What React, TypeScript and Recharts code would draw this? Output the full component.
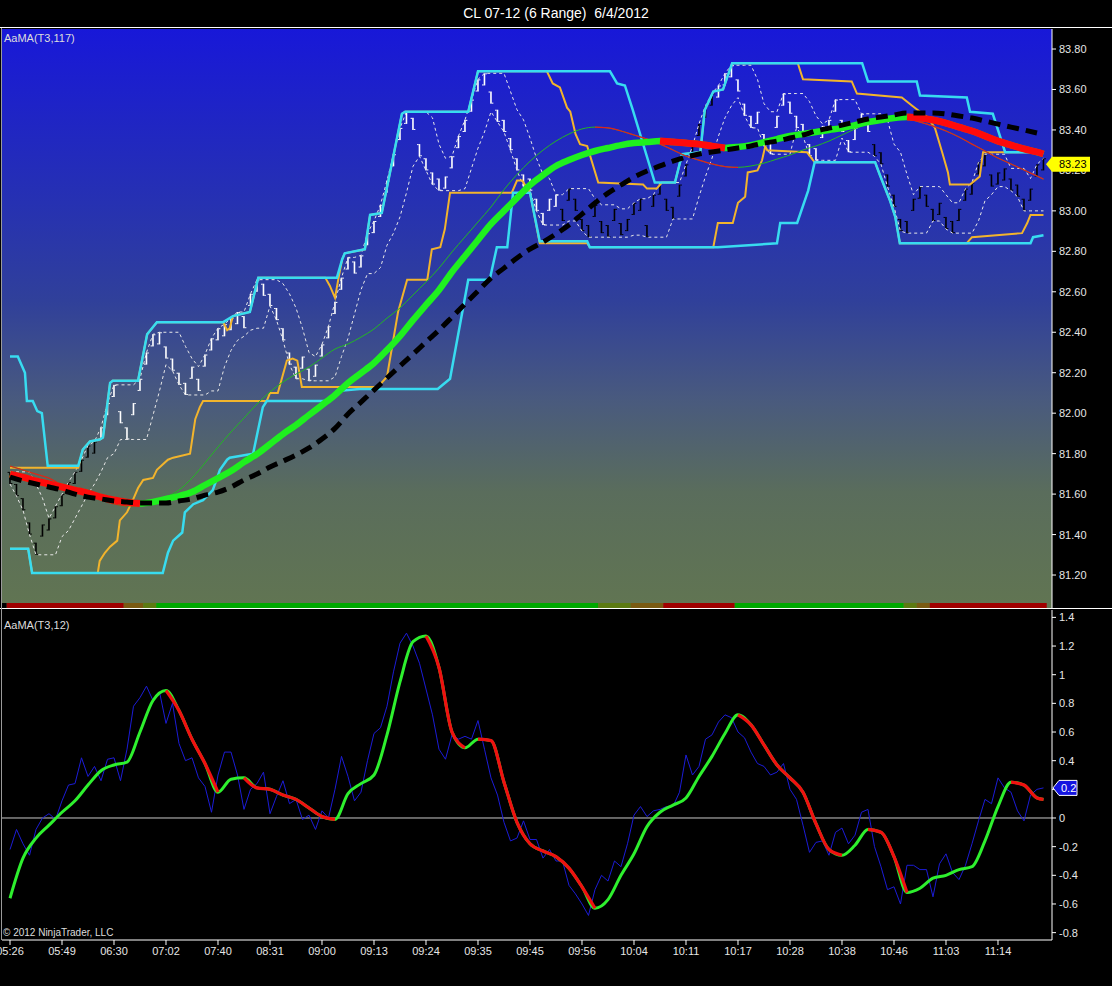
import React from "react";
import { ComposedChart, Line, Bar, XAxis, YAxis, ReferenceArea, ReferenceLine } from "recharts";

const chartTitle = "CL 07-12 (6 Range)  6/4/2012";

// x axis: one slot per sampled range bar
const timeTicks = [1, 9, 17, 25, 33, 41, 49, 57, 65, 73, 81, 89, 97, 105, 113, 121, 129, 137, 145, 153];
const timeLabels = ["05:26", "05:49", "06:30", "07:02", "07:40", "08:31", "09:00", "09:13", "09:24", "09:35",
  "09:45", "09:56", "10:04", "10:11", "10:17", "10:28", "10:38", "10:46", "11:03", "11:14"];

const priceTicks = [81.2, 81.4, 81.6, 81.8, 82.0, 82.2, 82.4, 82.6, 82.8, 83.0, 83.2, 83.4, 83.6, 83.8];
const oscTicks = [-0.8, -0.6, -0.4, -0.2, 0, 0.2, 0.4, 0.6, 0.8, 1, 1.2, 1.4];

// mid price of each range bar (6 ticks tall)
const barMid = [null,
  81.68, 81.62, 81.55, 81.43, 81.33, 81.42, 81.45, 81.51, 81.57, 81.63,
  81.68, 81.74, 81.81, 81.83, 81.90, 82.02, 82.11, 81.98, 81.90, 82.02,
  82.14, 82.27, 82.36, 82.37, 82.30, 82.24, 82.17, 82.12, 82.20, 82.14,
  82.26, 82.34, 82.39, 82.41, 82.44, 82.47, 82.45, 82.56, 82.63, 82.61,
  82.56, 82.49, 82.39, 82.27, 82.20, 82.25, 82.19, 82.21, 82.31, 82.40,
  82.52, 82.64, 82.74, 82.72, 82.75, 82.86, 82.92, 83.00, 83.12, 83.25,
  83.38, 83.46, 83.43, 83.30, 83.23, 83.16, 83.13, 83.14, 83.24, 83.34,
  83.42, 83.52, 83.62, 83.65, 83.56, 83.47, 83.42, 83.33, 83.23, 83.15,
  83.13, 83.03, 82.96, 83.03, 83.05, 82.98, 83.08, 83.03, 82.93, 82.90,
  83.00, 82.92, 82.90, 82.98, 82.91, 82.93, 83.01, 83.03, 82.90, 83.05,
  83.11, 83.03, 82.99, 83.10, 83.20, 83.29, 83.40, 83.49, 83.55, 83.59,
  83.65, 83.69, 83.62, 83.50, 83.44, 83.46, 83.35, 83.31, 83.44, 83.55,
  83.51, 83.44, 83.40, 83.30, 83.28, 83.39, 83.42, 83.52, 83.42, 83.32,
  83.38, 83.45, 83.42, 83.30, 83.26, 83.15, 83.05, 82.93, 82.92, 83.03,
  83.09, 83.05, 82.98, 83.01, 82.94, 82.92, 82.98, 83.08, 83.11, 83.21,
  83.25, 83.15, 83.16, 83.18, 83.13, 83.10, 83.03, 83.08, 83.20, 83.23,
];

// bar colouring runs [from, to, tone]
const barTone = [[1, 14, "dn"], [15, 85, "up"], [86, 109, "dn"], [110, 133, "up"], [134, 160, "dn"]];

// trend strip along the bottom of the price panel
const trendStrip = [[0, 0, "none"], [1, 18, "dn"], [19, 21, "dnFlat"], [22, 23, "upFlat"], [24, 91, "up"],
  [92, 96, "upFlat"], [97, 101, "dnFlat"], [102, 112, "dn"], [113, 138, "up"], [139, 140, "upFlat"],
  [141, 142, "dnFlat"], [143, 160, "dn"]];

// smooth averages, one value every other bar
const sampleIdx = Array.from({ length: 80 }, (_, k) => 1 + 2 * k).concat(160);

const aama117 = [
  81.699, 81.684, 81.665, 81.650, 81.635, 81.620, 81.605, 81.585, 81.571, 81.560,
  81.553, 81.561, 81.576, 81.590, 81.610, 81.645, 81.679, 81.714, 81.758, 81.798,
  81.847, 81.897, 81.941, 81.991, 82.040, 82.090, 82.149, 82.198, 82.248, 82.312,
  82.381, 82.460, 82.535, 82.609, 82.698, 82.777, 82.856, 82.935, 83.000, 83.064,
  83.128, 83.177, 83.222, 83.251, 83.276, 83.296, 83.311, 83.325, 83.335, 83.340,
  83.345, 83.340, 83.335, 83.330, 83.320, 83.311, 83.316, 83.325, 83.340, 83.355,
  83.370, 83.380, 83.390, 83.400, 83.409, 83.424, 83.439, 83.449, 83.459, 83.464,
  83.459, 83.449, 83.434, 83.414, 83.395, 83.370, 83.345, 83.325, 83.306, 83.291,
  83.281,
];

const slowMa = [
  81.684, 81.665, 81.650, 81.635, 81.620, 81.600, 81.585, 81.576, 81.566, 81.561,
  81.556, 81.556, 81.556, 81.566, 81.576, 81.595, 81.610, 81.635, 81.670, 81.699,
  81.734, 81.763, 81.793, 81.828, 81.872, 81.925, 81.996, 82.055, 82.114, 82.174,
  82.233, 82.292, 82.352, 82.411, 82.475, 82.540, 82.604, 82.668, 82.717, 82.767,
  82.811, 82.846, 82.886, 82.930, 82.984, 83.039, 83.088, 83.128, 83.167, 83.197,
  83.222, 83.246, 83.266, 83.281, 83.291, 83.301, 83.311, 83.321, 83.335, 83.345,
  83.360, 83.375, 83.395, 83.409, 83.424, 83.439, 83.454, 83.464, 83.474, 83.484,
  83.484, 83.484, 83.479, 83.469, 83.459, 83.444, 83.429, 83.414, 83.400, 83.385,
  null,
];

const fastMa = [
  81.739, 81.719, 81.699, 81.679, 81.645, 81.620, 81.600, 81.571, 81.551, 81.541,
  81.551, 81.566, 81.586, 81.620, 81.679, 81.754, 81.833, 81.907, 81.976, 82.045,
  82.105, 82.154, 82.193, 82.228, 82.273, 82.317, 82.342, 82.376, 82.416, 82.470,
  82.520, 82.584, 82.648, 82.717, 82.797, 82.871, 82.945, 83.019, 83.105, 83.180,
  83.245, 83.300, 83.345, 83.380, 83.405, 83.414, 83.410, 83.395, 83.375, 83.355,
  83.330, 83.301, 83.271, 83.251, 83.232, 83.219, 83.215, 83.222, 83.236, 83.256,
  83.276, 83.301, 83.321, 83.345, 83.375, 83.405, 83.434, 83.454, 83.459, 83.454,
  83.439, 83.419, 83.395, 83.365, 83.330, 83.296, 83.261, 83.232, 83.202, 83.172,
  83.157,
];

// channel vertices [bar index, price]
const cyanHi = [[1.0, 82.28], [2.2, 82.28], [3.3, 82.20], [3.6, 82.06], [4.5, 82.06], [5.2, 82.01], [5.9, 82.00],
  [6.8, 81.74], [11.5, 81.74], [12.2, 81.82], [13.3, 81.86], [14.8, 81.87], [15.3, 81.88], [16.4, 82.15],
  [16.8, 82.16], [20.7, 82.16], [22.1, 82.39], [23.6, 82.45], [33.8, 82.45], [35.3, 82.48], [37.9, 82.50],
  [39.2, 82.67], [51.3, 82.67], [52.1, 82.76], [52.5, 82.79], [55.6, 82.81], [56.4, 82.98], [58.2, 82.99],
  [61.3, 83.48], [61.8, 83.49], [71.5, 83.49], [73.0, 83.69], [93.3, 83.69], [94.4, 83.63], [95.6, 83.62],
  [96.8, 83.50], [100.2, 83.14], [103.3, 83.14], [104.4, 83.28], [107.2, 83.29], [107.9, 83.50],
  [109.2, 83.59], [110.7, 83.60], [112.1, 83.73], [132.1, 83.73], [133.0, 83.64], [140.5, 83.64],
  [141.0, 83.57], [148.2, 83.56], [148.7, 83.49], [152.2, 83.48], [154.1, 83.29], [160.0, 83.29]];

const cyanLo = [[1.0, 81.33], [3.8, 81.33], [4.4, 81.21], [24.5, 81.21], [25.3, 81.31], [26.1, 81.37],
  [27.5, 81.41], [27.9, 81.51], [29.2, 81.55], [30.7, 81.57], [32.2, 81.62], [33.3, 81.72], [34.4, 81.77],
  [34.8, 81.78], [38.4, 81.80], [39.9, 82.03], [40.5, 82.06], [50.2, 82.06], [51.3, 82.11], [54.8, 82.12],
  [66.8, 82.12], [68.7, 82.17], [71.5, 82.66], [74.8, 82.66], [75.9, 82.82], [77.5, 82.82], [78.4, 83.09],
  [81.0, 83.09], [82.5, 82.85], [89.8, 82.85], [90.2, 82.82], [109.9, 82.82], [119.0, 82.84],
  [119.5, 82.94], [122.1, 82.94], [123.8, 83.10], [124.8, 83.24], [134.1, 83.24], [134.8, 83.18],
  [136.4, 83.05], [137.2, 82.97], [137.9, 82.84], [158.0, 82.84], [158.4, 82.87], [160.0, 82.88]];

const amberHi = [[1.0, 81.73], [11.5, 81.73], [12.2, 81.82], [13.3, 81.86], [14.8, 81.87], [15.3, 81.88],
  [16.4, 82.15], [16.8, 82.16], [20.7, 82.16], [22.1, 82.39], [23.6, 82.45], [33.8, 82.45], [34.4, 82.41],
  [34.8, 82.42], [35.3, 82.48], [37.9, 82.50], [39.2, 82.67], [49.5, 82.67], [50.2, 82.63], [51.0, 82.57],
  [51.5, 82.66], [52.1, 82.76], [52.5, 82.79], [55.6, 82.81], [56.4, 82.98], [58.2, 82.99], [61.3, 83.48],
  [61.8, 83.49], [71.5, 83.49], [73.0, 83.69], [83.6, 83.69], [84.5, 83.63], [85.6, 83.61], [86.7, 83.51],
  [87.2, 83.49], [88.0, 83.38], [88.7, 83.33], [89.8, 83.32], [91.5, 83.14], [98.4, 83.13], [99.0, 83.11],
  [100.5, 83.11], [101.3, 83.14], [103.3, 83.14], [104.4, 83.28], [107.2, 83.29], [107.9, 83.50],
  [109.2, 83.59], [110.7, 83.60], [112.1, 83.73], [122.2, 83.73], [123.0, 83.65], [130.5, 83.64],
  [131.3, 83.58], [138.2, 83.56], [139.8, 83.52], [142.2, 83.46], [143.3, 83.41], [144.5, 83.28],
  [145.3, 83.19], [145.6, 83.13], [148.7, 83.13], [150.2, 83.17], [150.7, 83.29], [160.0, 83.29]];

const amberLo = [[1.0, 81.33], [3.8, 81.33], [4.4, 81.21], [14.5, 81.21], [14.8, 81.27], [15.6, 81.31],
  [16.4, 81.34], [17.5, 81.37], [17.9, 81.47], [19.0, 81.51], [19.9, 81.57], [20.7, 81.63], [21.5, 81.67],
  [23.0, 81.68], [23.6, 81.72], [25.3, 81.77], [26.1, 81.78], [28.7, 81.80], [29.5, 81.97], [30.2, 82.03],
  [30.7, 82.06], [40.5, 82.06], [41.0, 82.10], [42.2, 82.10], [43.6, 82.26], [44.5, 82.27], [45.2, 82.26],
  [45.9, 82.13], [57.6, 82.13], [59.0, 82.18], [60.7, 82.50], [62.1, 82.66], [65.2, 82.66], [65.9, 82.81],
  [67.2, 82.82], [67.9, 82.91], [68.7, 83.09], [78.2, 83.09], [79.0, 83.15], [79.8, 83.15], [81.0, 83.09],
  [82.5, 82.84], [89.8, 82.84], [90.2, 82.82], [109.2, 82.82], [109.9, 82.94], [112.2, 82.94],
  [113.0, 83.04], [114.1, 83.07], [114.5, 83.19], [116.0, 83.20], [116.7, 83.25], [117.2, 83.32],
  [117.5, 83.30], [123.6, 83.29], [124.8, 83.24], [134.1, 83.24], [134.8, 83.18], [136.4, 83.05],
  [137.2, 82.97], [137.9, 82.84], [148.2, 82.84], [149.0, 82.87], [156.7, 82.89], [157.5, 82.94],
  [158.0, 82.98], [160.0, 82.98]];

// lower panel: AaMA(T3,12)
const oscRaw = [null,
  -0.22, -0.08, -0.18, -0.26, -0.08, 0.00, 0.03, -0.01, 0.12, 0.23,
  0.24, 0.42, 0.29, 0.36, 0.26, 0.41, 0.42, 0.26, 0.48, 0.78,
  0.84, 0.92, 0.82, 0.88, 0.66, 0.80, 0.52, 0.40, 0.42, 0.28,
  0.22, 0.04, 0.30, 0.46, 0.46, 0.30, 0.06, 0.20, 0.24, 0.32,
  0.03, 0.15, 0.26, 0.10, 0.13, -0.01, 0.02, -0.08, 0.05, 0.00,
  0.20, 0.43, 0.29, 0.12, 0.18, 0.40, 0.59, 0.63, 0.78, 1.02,
  1.22, 1.29, 1.20, 1.08, 0.90, 0.72, 0.48, 0.41, 0.58, 0.55,
  0.57, 0.55, 0.68, 0.48, 0.28, 0.16, -0.03, -0.16, -0.14, -0.02,
  -0.15, -0.15, -0.28, -0.22, -0.30, -0.30, -0.47, -0.53, -0.60, -0.68,
  -0.50, -0.40, -0.44, -0.30, -0.34, -0.18, 0.02, 0.08, 0.01, 0.05,
  0.06, 0.08, 0.08, 0.18, 0.44, 0.30, 0.36, 0.55, 0.58, 0.67,
  0.72, 0.70, 0.60, 0.56, 0.46, 0.38, 0.36, 0.30, 0.32, 0.38,
  0.20, 0.13, -0.05, -0.24, -0.17, -0.16, -0.26, -0.10, -0.07, -0.18,
  -0.12, 0.04, 0.06, -0.20, -0.34, -0.50, -0.48, -0.60, -0.33, -0.33,
  -0.36, -0.36, -0.55, -0.32, -0.25, -0.38, -0.43, -0.33, -0.18, -0.02,
  0.13, 0.10, 0.28, 0.21, 0.18, 0.05, -0.02, 0.16, 0.20, 0.21,
];

const oscSmooth = [
  -0.56, -0.28, -0.14, -0.05, 0.04, 0.12, 0.23, 0.33, 0.37, 0.39,
  0.60, 0.82, 0.89, 0.75, 0.55, 0.38, 0.18, 0.27, 0.28, 0.21,
  0.20, 0.16, 0.13, 0.07, 0.01, -0.01, 0.17, 0.24, 0.30, 0.58,
  0.95, 1.23, 1.27, 1.05, 0.60, 0.49, 0.55, 0.54, 0.25, -0.03,
  -0.18, -0.23, -0.27, -0.35, -0.48, -0.63, -0.57, -0.40, -0.25, -0.06,
  0.04, 0.09, 0.14, 0.29, 0.43, 0.59, 0.72, 0.65, 0.51, 0.37,
  0.28, 0.18, -0.04, -0.22, -0.26, -0.19, -0.08, -0.10, -0.27, -0.52,
  -0.49, -0.42, -0.40, -0.36, -0.34, -0.16, 0.08, 0.25, 0.23, 0.14,
  0.13,
];

const X_DOMAIN = [-0.231, 161.31];
const PRICE_DOMAIN = [81.037, 83.899];
const OSC_DOMAIN = [-0.8514, 1.4515];
const BAR_RANGE = 0.06;
const FAST_SPAN = 4;
const TICK_SIZE = 4;
const TICK_MARGIN = 3;

const stripColors = { none: "#000000", dn: "#a00000", dnFlat: "#7a5a12", upFlat: "#5c7a12", up: "#00a800" };
const font = "'Liberation Sans', Arial, sans-serif";

const toneAt = (i) => {
  const run = barTone.find(([a, b]) => i >= a && i <= b);
  return run ? run[2] : "dn";
};

const barRows = barMid.map((mid, i) => {
  let hi = null;
  let lo = null;
  for (let j = Math.max(1, i - FAST_SPAN + 1); j <= i; j++) {
    const m = barMid[j];
    if (m == null) continue;
    hi = hi == null ? m + BAR_RANGE / 2 : Math.max(hi, m + BAR_RANGE / 2);
    lo = lo == null ? m - BAR_RANGE / 2 : Math.min(lo, m - BAR_RANGE / 2);
  }
  return {
    i,
    range: mid == null ? null : [mid - BAR_RANGE / 2, mid + BAR_RANGE / 2],
    tone: toneAt(i),
    rising: i > 1 && mid != null && barMid[i - 1] != null ? mid >= barMid[i - 1] : false,
    fastHi: hi,
    fastLo: lo,
  };
});

const toRows = (vals) => sampleIdx.map((i, k) => ({ i, v: vals[k] }));
const toVertex = (pts) => pts.map(([i, v]) => ({ i, v }));

// split out the falling stretches of a line so they can be drawn red
function fallingRuns(rows) {
  const runs = [];
  let cur = null;
  for (let k = 1; k < rows.length; k++) {
    const a = rows[k - 1];
    const b = rows[k];
    if (a.v == null || b.v == null || !(b.v < a.v)) {
      cur = null;
      continue;
    }
    if (!cur) {
      cur = [a];
      runs.push(cur);
    }
    cur.push(b);
  }
  return runs;
}

const aamaRows = toRows(aama117);
const slowRows = toRows(slowMa);
const fastRows = toRows(fastMa);
const smoothRows = toRows(oscSmooth);
const oscRows = oscRaw.map((v, i) => ({ i, v }));

const lastClose = barMid[barMid.length - 1];
const lastOsc = oscRaw[oscRaw.length - 1];

// range bar drawn OHLC style: stem plus open tick (left) and close tick (right)
const RangeBar = (props) => {
  const { x, y, width, height, payload } = props;
  if (x == null || payload == null || payload.range == null) return null;
  const cx = x + width / 2;
  const top = Math.min(y, y + height);
  const bottom = top + Math.abs(height);
  const col = payload.tone === "up" ? "#ffffff" : "#000000";
  const openY = payload.rising ? bottom - 1 : top;
  const closeY = payload.rising ? top : bottom - 1;
  return (
    <g>
      <rect x={cx - 0.8} y={top} width={1.6} height={bottom - top} fill={col} />
      <rect x={cx - 2.4} y={openY} width={1.6} height={1} fill={col} />
      <rect x={cx + 0.8} y={closeY} width={1.6} height={1} fill={col} />
    </g>
  );
};

// axis tick that also draws the last-value marker (drawn after the plain labels, so it sits on top)
const AxisTick = (props) => {
  const { x, y, payload, format, tag } = props;
  const v = payload.value;
  const ax = x - TICK_SIZE - TICK_MARGIN;
  if (tag && v === tag.value) {
    const x0 = ax + tag.tip;
    const h = 7.5;
    const d = `M${x0},${y} L${x0 + 6},${y - h} L${x0 + tag.body},${y - h} L${x0 + tag.body},${y + h} L${x0 + 6},${y + h} Z`;
    return (
      <g>
        <path d={d} fill={tag.fill} stroke={tag.stroke} strokeWidth={1} />
        <text x={x0 + tag.textDx} y={y + 4} fill={tag.color} fontSize={11} fontFamily={font}>{tag.text}</text>
      </g>
    );
  }
  return (
    <g>
      <line x1={ax} x2={ax + TICK_SIZE} y1={y} y2={y} stroke="#ffffff" />
      <text x={x} y={y + 4} fill="#e6e6e6" fontSize={11} fontFamily={font}>{format(v)}</text>
    </g>
  );
};

const noDot = { dot: false, activeDot: false, isAnimationActive: false };

export default function App() {
  const thickRed = fallingRuns(aamaRows);
  const thinRed = fallingRuns(fastRows);
  const oscRed = fallingRuns(smoothRows);

  const priceTag = { value: lastClose, text: lastClose.toFixed(2), fill: "#ffff00", color: "#000000", stroke: "none", tip: -6, body: 44, textDx: 13 };
  const oscTag = { value: lastOsc, text: lastOsc.toFixed(1), fill: "#1414e0", color: "#ffffff", stroke: "#ffffff", tip: 1, body: 24, textDx: 8 };

  return (
    <div style={{ position: "absolute", left: 0, top: 0, width: 1112, height: 986, background: "#000", overflow: "hidden", fontFamily: font }}>
      <div style={{ position: "absolute", left: 0, top: 5, width: 1112, textAlign: "center", color: "#fff", fontSize: 14, whiteSpace: "pre" }}>
        {chartTitle}
      </div>

      <div style={{ position: "absolute", left: 2, top: 29, width: 1050, height: 579,
        background: "linear-gradient(180deg, #1818d8 0%, #2631b2 30%, #30409a 47%, #495a7e 64%, #5a6d5c 80%, #617552 100%)" }} />

      <div style={{ position: "absolute", left: 0, top: 27 }}>
        <ComposedChart width={1112} height={581} data={barRows} margin={{ top: 2, right: 0, bottom: 0, left: 2 }}>
          <XAxis type="number" dataKey="i" domain={X_DOMAIN} allowDataOverflow hide height={0} />
          <YAxis orientation="right" width={60} domain={PRICE_DOMAIN} allowDataOverflow interval={0}
            ticks={[...priceTicks, lastClose]} stroke="#ffffff" tickSize={TICK_SIZE} tickMargin={TICK_MARGIN} tickLine={false}
            tick={<AxisTick format={(v) => v.toFixed(2)} tag={priceTag} />} />
          {trendStrip.map(([a, b, s]) => (
            <ReferenceArea key={`s${a}`} x1={a - 0.5} x2={b + 0.5} y1={PRICE_DOMAIN[0]} y2={81.062}
              fill={stripColors[s]} fillOpacity={1} stroke="none" ifOverflow="hidden" />
          ))}
          <Line dataKey="fastHi" type="linear" stroke="#e8e8e8" strokeWidth={1} strokeDasharray="3 3" {...noDot} />
          <Line dataKey="fastLo" type="linear" stroke="#e8e8e8" strokeWidth={1} strokeDasharray="3 3" {...noDot} />
          <Bar dataKey="range" shape={<RangeBar />} isAnimationActive={false} barSize={4} />
          <Line data={toVertex(amberHi)} dataKey="v" type="linear" stroke="#f2b42c" strokeWidth={2} {...noDot} />
          <Line data={toVertex(amberLo)} dataKey="v" type="linear" stroke="#f2b42c" strokeWidth={2} {...noDot} />
          <Line data={toVertex(cyanHi)} dataKey="v" type="linear" stroke="#38dcf0" strokeWidth={2.5} {...noDot} />
          <Line data={toVertex(cyanLo)} dataKey="v" type="linear" stroke="#38dcf0" strokeWidth={2.5} {...noDot} />
          <Line data={fastRows} dataKey="v" type="monotone" stroke="#22b822" strokeWidth={1} {...noDot} />
          {thinRed.map((run, k) => (
            <Line key={`tr${k}`} data={run} dataKey="v" type="monotone" stroke="#e02020" strokeWidth={1.2} {...noDot} />
          ))}
          <Line data={aamaRows} dataKey="v" type="monotone" stroke="#1ff01f" strokeWidth={6.5} {...noDot} />
          {thickRed.map((run, k) => (
            <Line key={`ar${k}`} data={run} dataKey="v" type="monotone" stroke="#ff0a0a" strokeWidth={7} {...noDot} />
          ))}
          <Line data={slowRows} dataKey="v" type="monotone" stroke="#000000" strokeWidth={5} strokeDasharray="12 7" {...noDot} />
        </ComposedChart>
      </div>

      <div style={{ position: "absolute", left: 0, top: 608 }}>
        <ComposedChart width={1112} height={362} data={oscRows} margin={{ top: 2, right: 0, bottom: 0, left: 2 }}>
          <XAxis type="number" dataKey="i" domain={X_DOMAIN} allowDataOverflow ticks={timeTicks} interval={0}
            tickFormatter={(v) => timeLabels[timeTicks.indexOf(v)]} height={30} stroke="#ffffff" tickSize={5} tickMargin={2}
            tick={{ fill: "#e6e6e6", fontSize: 11, fontFamily: font }} />
          <YAxis orientation="right" width={60} domain={OSC_DOMAIN} allowDataOverflow interval={0}
            ticks={[...oscTicks, lastOsc]} stroke="#ffffff" tickSize={TICK_SIZE} tickMargin={TICK_MARGIN} tickLine={false}
            tick={<AxisTick format={(v) => String(v)} tag={oscTag} />} />
          <ReferenceLine y={0} stroke="#c8c8c8" strokeWidth={1} />
          <Line dataKey="v" type="linear" stroke="#1c1cd6" strokeWidth={1} {...noDot} />
          <Line data={smoothRows} dataKey="v" type="monotone" stroke="#2ef02e" strokeWidth={3} {...noDot} />
          {oscRed.map((run, k) => (
            <Line key={`or${k}`} data={run} dataKey="v" type="monotone" stroke="#f01010" strokeWidth={3.2} {...noDot} />
          ))}
        </ComposedChart>
      </div>

      <div style={{ position: "absolute", left: 0, top: 27, width: 1112, height: 1, background: "#ffffff" }} />
      <div style={{ position: "absolute", left: 0, top: 608, width: 1112, height: 1, background: "#ffffff" }} />
      <div style={{ position: "absolute", left: 1, top: 28, width: 1, height: 912, background: "#9a9a9a" }} />

      <div style={{ position: "absolute", left: 4, top: 32, color: "#dddddd", fontSize: 11 }}>AaMA(T3,117)</div>
      <div style={{ position: "absolute", left: 4, top: 619, color: "#dddddd", fontSize: 11 }}>AaMA(T3,12)</div>
      <div style={{ position: "absolute", left: 3, top: 927, color: "#dddddd", fontSize: 10 }}>© 2012 NinjaTrader, LLC</div>
    </div>
  );
}
